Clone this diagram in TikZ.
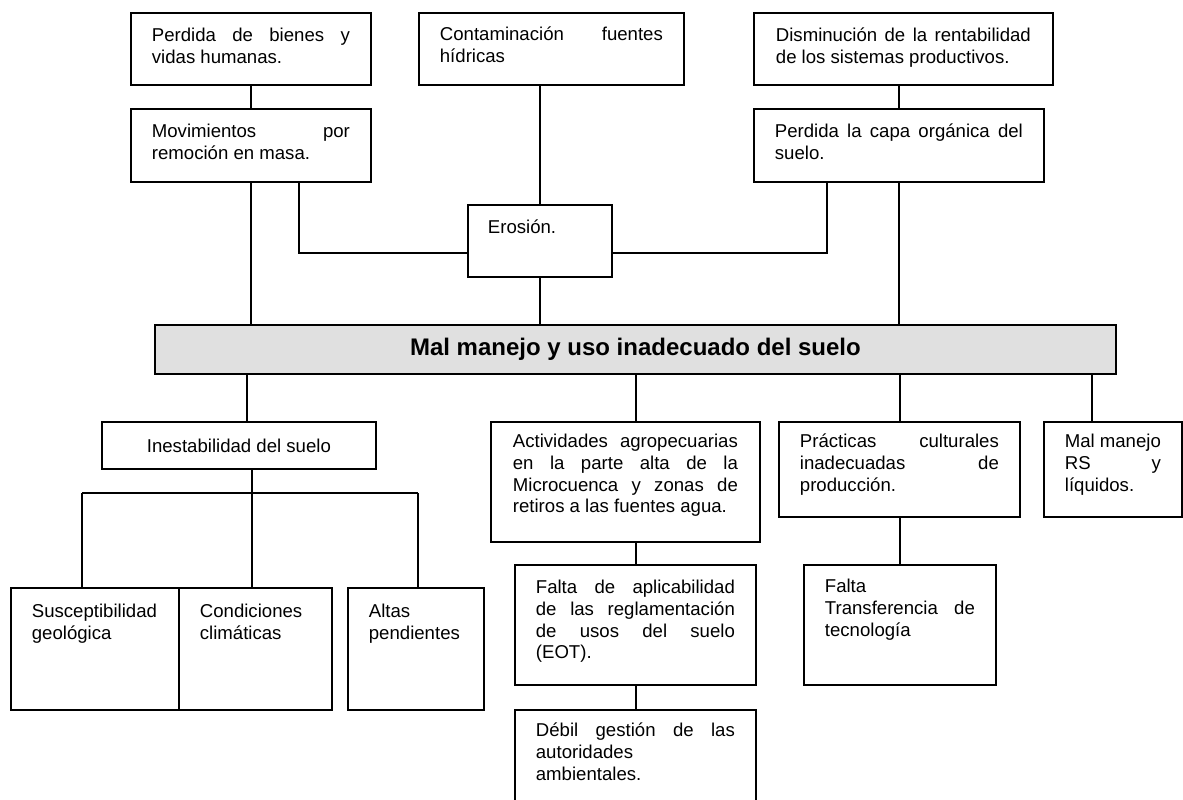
\documentclass[tikz,border=0pt]{standalone}
\usepackage{fontspec}
\setmainfont{Liberation Sans}
\definecolor{bargray}{HTML}{E0E0E0}
\newcommand{\bt}[4]{\parbox[c][#2][t]{#1}{\tolerance=10000\hbadness=10000\vspace*{#3}\rule{0pt}{15pt}#4}}
\tikzset{
  bx/.style={draw, line width=1.8pt, inner ysep=0pt, inner xsep=21pt, anchor=north west, fill=white,
    font=\fontsize{18.6pt}{21.6pt}\selectfont},
  ln/.style={line width=1.9pt},
}
\begin{document}
\begin{tikzpicture}[x=1pt,y=-1pt]
\useasboundingbox (0,0) rectangle (1183,800);
\clip (0,0) rectangle (1183,800);

% top effects
\node[bx] (A) at (130,12) {\bt{198pt}{72pt}{14pt}{Perdida de bienes y\linebreak vidas humanas.}};
\node[bx] (B) at (130,108) {\bt{198pt}{73pt}{14pt}{Movimientos por\linebreak remoción en masa.}};
\node[bx] (C) at (418,12) {\bt{223pt}{72pt}{13pt}{Contaminación fuentes\linebreak hídricas}};
\node[bx, inner xsep=22pt] (D) at (753,12) {\bt{255pt}{72pt}{14pt}{Disminución de la rentabilidad\linebreak de los sistemas productivos.}};
\node[bx] (E) at (753,108) {\bt{248pt}{73pt}{14pt}{Perdida la capa orgánica del\linebreak suelo.}};
\node[bx, inner xsep=20pt] (ero) at (467,204) {\bt{104pt}{72pt}{14pt}{Erosión.}};

% central problem
\node[draw, line width=1.8pt, fill=bargray, inner sep=0pt, anchor=north west,
  minimum width=961pt, minimum height=49pt,
  font=\bfseries\fontsize{24pt}{28pt}\selectfont] (bar) at (154,324) {Mal manejo y uso inadecuado del suelo};

% causes
\node[draw, line width=1.8pt, inner sep=0pt, anchor=north west, minimum width=274pt, minimum height=47pt,
  font=\fontsize{18.6pt}{21.6pt}\selectfont] (inest) at (101,421) {Inestabilidad del suelo};
\node[bx, inner xsep=22pt] (act) at (490,421) {\bt{225pt}{120pt}{11pt}{Actividades agropecuarias\linebreak en la parte alta de la\linebreak Microcuenca y zonas de\linebreak retiros a las fuentes agua.}};
\node[bx] (prac) at (778,421) {\bt{199pt}{95pt}{11pt}{Prácticas culturales\linebreak inadecuadas de\linebreak producción.}};
\node[bx] (mm) at (1043,421) {\bt{96pt}{95pt}{11pt}{Mal manejo\linebreak RS y\linebreak líquidos.}};

\node[bx] (susc) at (10,587) {\bt{126pt}{122pt}{15pt}{Susceptibilidad\\ geológica}};
\node[bx] (cond) at (178,587) {\bt{111pt}{122pt}{15pt}{Condiciones\\ climáticas}};
\node[bx] (altas) at (347,587) {\bt{94pt}{122pt}{15pt}{Altas\\ pendientes}};

\node[bx] (fa) at (514,564) {\bt{199pt}{120pt}{14pt}{Falta de aplicabilidad\linebreak de las reglamentación\linebreak de usos del suelo\linebreak (EOT).}};
\node[bx] (deb) at (514,709) {\bt{199pt}{96pt}{12pt}{Débil gestión de las\linebreak autoridades\\ ambientales.}};
\node[bx] (ft) at (803,564) {\bt{150pt}{120pt}{13pt}{Falta\\ Transferencia de\linebreak tecnología}};

% connectors above the bar
\draw[ln] (A.south) -- (B.north);
\draw[ln] (B.south) -- (B.south |- bar.north);
\draw[ln] ([xshift=48pt]B.south) |- ([yshift=-12pt]ero.west);
\draw[ln] (ero.north) -- (ero.north |- C.south);
\draw[ln] (ero.south) -- (ero.south |- bar.north);
\draw[ln] ([yshift=-12pt]ero.east) -| ([xshift=74pt]E.south west);
\draw[ln] (E.north) -- (E.north |- D.south);
\draw[ln] (E.south) -- (E.south |- bar.north);

% connectors below the bar
\draw[ln] ([xshift=8pt]inest.north |- bar.south) -- ([xshift=8pt]inest.north);
\coordinate (hl) at (82,493);
\coordinate (hr) at (418,493);
\draw[ln] (hl) -- (hr);
\draw[ln] ([xshift=13pt]inest.south) -- ([xshift=13pt]inest.south |- hl);
\draw[ln] (hl) -- (hl |- susc.north);
\draw[ln] ([xshift=-3.5pt]cond.north |- hl) -- ([xshift=-3.5pt]cond.north);
\draw[ln] (hr) -- (hr |- altas.north);

\draw[ln] ([xshift=0.5pt]fa.north |- bar.south) -- ([xshift=0.5pt]fa.north |- act.north);
\draw[ln] ([xshift=0.5pt]fa.north |- act.south) -- ([xshift=0.5pt]fa.north);
\draw[ln] ([xshift=0.5pt]fa.south) -- ([xshift=0.5pt]deb.north);

\draw[ln] ([xshift=0.5pt]prac.north |- bar.south) -- ([xshift=0.5pt]prac.north);
\draw[ln] (ft.north |- prac.south) -- (ft.north);
\draw[ln] ([xshift=-21pt]mm.north |- bar.south) -- ([xshift=-21pt]mm.north);
\end{tikzpicture}
\end{document}
